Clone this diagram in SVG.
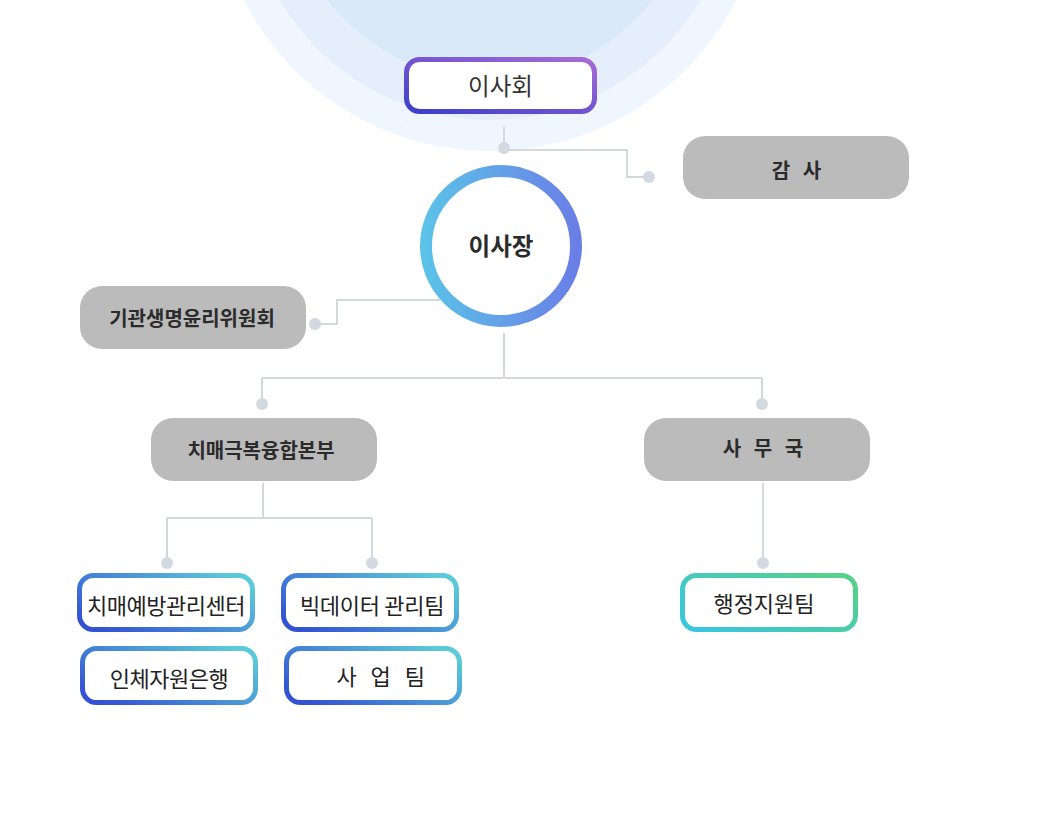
<svg xmlns="http://www.w3.org/2000/svg" width="1054" height="826" viewBox="0 0 1054 826">
<style>
.conn line,.conn polyline{stroke:#d3d8de;stroke-width:2;fill:none}
.dot{fill:#d3d9e0}
.gray{fill:#bbbbbb}
.gt{font-family:"Noto Sans CJK KR","Noto Sans",sans-serif;font-weight:bold;font-size:20px;fill:#2b2b2b;text-anchor:middle}
.lt{font-family:"Noto Sans CJK KR","Noto Sans",sans-serif;font-size:22px;fill:#222;text-anchor:middle}
.leafb{fill:#fff;stroke:url(#gBlue);stroke-width:5}
</style>
<defs>
<linearGradient id="gPurple" x1="0" y1="1" x2="1" y2="0">
<stop offset="0" stop-color="#3d3fcb"/><stop offset="1" stop-color="#a76bd6"/>
</linearGradient>
<linearGradient id="gCircle" x1="0" y1="0" x2="1" y2="0">
<stop offset="0" stop-color="#5bc2e8"/><stop offset="1" stop-color="#6a7fe6"/>
</linearGradient>
<linearGradient id="gBlue" x1="0" y1="0.8" x2="1" y2="0.2">
<stop offset="0" stop-color="#3352d4"/><stop offset="1" stop-color="#5ccad8"/>
</linearGradient>
<linearGradient id="gGreen" x1="0" y1="0.8" x2="1" y2="0.2">
<stop offset="0" stop-color="#3ac6dc"/><stop offset="1" stop-color="#56d08a"/>
</linearGradient>
</defs>
<rect width="1054" height="826" fill="#ffffff"/>
<g id="background">
<circle cx="490" cy="-125" r="276" fill="#f0f6fd"/>
<circle cx="490" cy="-125" r="245" fill="#e5effb"/>
<circle cx="490" cy="-125" r="205" fill="#dae9f8"/>
</g>
<g class="conn" id="connectors">
<line x1="504" y1="126" x2="504" y2="148"/>
<polyline points="504,150 627,150 627,177 649,177"/>
<polyline points="440,300 337,300 337,324 315,324"/>
<line x1="504" y1="333" x2="504" y2="378"/>
<line x1="262" y1="378" x2="762" y2="378"/>
<line x1="262" y1="378" x2="262" y2="404"/>
<line x1="762" y1="378" x2="762" y2="404"/>
<line x1="263" y1="483" x2="263" y2="518"/>
<line x1="167" y1="518" x2="372" y2="518"/>
<line x1="167" y1="518" x2="167" y2="563"/>
<line x1="372" y1="518" x2="372" y2="563"/>
<line x1="763" y1="483" x2="763" y2="563"/>
<circle class="dot" cx="504" cy="148" r="6"/>
<circle class="dot" cx="649" cy="177" r="6"/>
<circle class="dot" cx="315" cy="324" r="6"/>
<circle class="dot" cx="262" cy="404" r="6"/>
<circle class="dot" cx="762" cy="404" r="6"/>
<circle class="dot" cx="167" cy="563" r="6"/>
<circle class="dot" cx="372" cy="563" r="6"/>
<circle class="dot" cx="763" cy="563" r="6"/>
</g>
<g id="board">
<rect x="406.5" y="59.5" width="188" height="52" rx="13" fill="#fff" stroke="url(#gPurple)" stroke-width="5"/>
<text x="500.5" y="95" font-family="'Noto Sans CJK KR','Noto Sans',sans-serif" font-size="23.5" fill="#333" text-anchor="middle">이사회</text>
</g>
<g id="auditor">
<rect class="gray" x="683" y="136" width="226" height="63" rx="22"/>
<text class="gt" x="798.5" y="178" letter-spacing="4">감 사</text>
</g>
<g id="chairman">
<circle cx="501" cy="246" r="75" fill="#fff" stroke="url(#gCircle)" stroke-width="12"/>
<text x="501" y="255" font-family="'Noto Sans CJK KR','Noto Sans',sans-serif" font-size="23.5" font-weight="bold" fill="#2b2b2b" text-anchor="middle">이사장</text>
</g>
<g id="irb">
<rect class="gray" x="80" y="286" width="226" height="63" rx="22"/>
<text class="gt" x="192" y="326">기관생명윤리위원회</text>
</g>
<g id="dementia-hq">
<rect class="gray" x="151" y="418" width="226" height="63" rx="22"/>
<text class="gt" x="261" y="458">치매극복융합본부</text>
</g>
<g id="secretariat">
<rect class="gray" x="644" y="418" width="226" height="63" rx="22"/>
<text class="gt" x="765" y="456" letter-spacing="4">사 무 국</text>
</g>
<g id="prevention-center">
<rect class="leafb" x="79.5" y="575.5" width="173" height="54" rx="14"/>
<text class="lt" x="166" y="614" letter-spacing="-0.5">치매예방관리센터</text>
</g>
<g id="bigdata-team">
<rect class="leafb" x="283.5" y="575.5" width="173" height="54" rx="14"/>
<text class="lt" x="372" y="614" letter-spacing="-0.3">빅데이터 관리팀</text>
</g>
<g id="biobank">
<rect class="leafb" x="82.5" y="648.5" width="173" height="54" rx="14"/>
<text class="lt" x="169" y="687" letter-spacing="-0.5">인체자원은행</text>
</g>
<g id="business-team">
<rect class="leafb" x="286.5" y="648.5" width="173" height="54" rx="14"/>
<text class="lt" x="383" y="685" letter-spacing="4.5">사 업 팀</text>
</g>
<g id="admin-team">
<rect x="682.5" y="575.5" width="173" height="54" rx="14" fill="#fff" stroke="url(#gGreen)" stroke-width="5"/>
<text class="lt" x="764" y="612" font-size="24">행정지원팀</text>
</g>
</svg>
